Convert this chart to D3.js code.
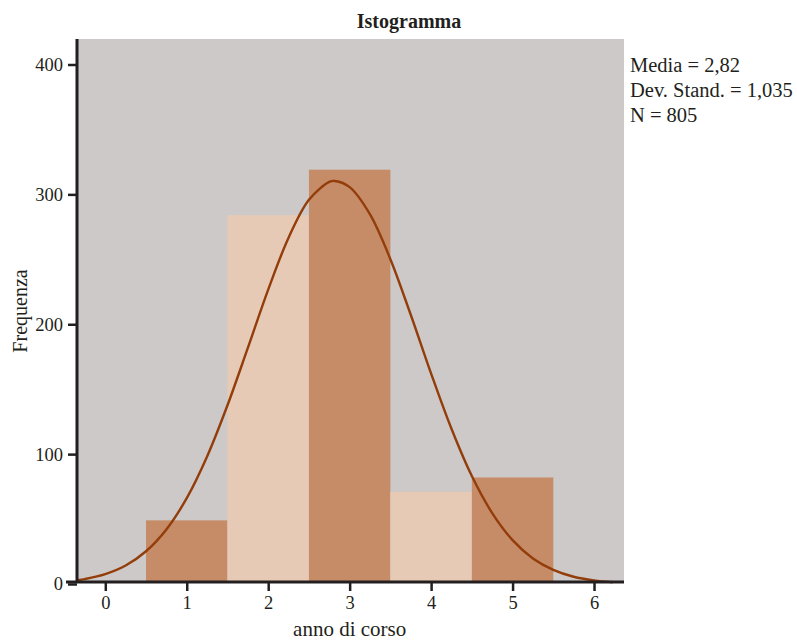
<!DOCTYPE html>
<html>
<head>
<meta charset="utf-8">
<script src="https://cdn.jsdelivr.net/npm/d3@7"></script>
<style>
  body { margin: 0; background: #fff; }
  text { font-family: "Liberation Serif", "DejaVu Serif", serif; fill: #231f20; }
</style>
</head>
<body>
<svg id="chart" width="797" height="641"></svg>
<script>
// histogram bins (anno di corso) and counts
const years = [1, 2, 3, 4, 5];
const counts = [49, 284, 319, 71, 82];
const barColors = ['#c68b67', '#e6cab5', '#c68b67', '#e6cab5', '#c68b67'];

// normal curve
const curveX = [-0.34, -0.25, 0, 0.25, 0.5, 0.75, 1, 1.25, 1.5, 1.75, 2, 2.25, 2.5, 2.75, 2.82,
  3, 3.25, 3.5, 3.75, 4, 4.25, 4.5, 4.75, 5, 5.25, 5.5, 5.75, 6, 6.23];
const curveY = [2.9, 3.8, 7.6, 14.2, 25.2, 42.0, 66.1, 98.2, 137.6, 181.8, 226.7, 266.6, 295.8, 309.6, 310.3,
  305.6, 284.6, 250.1, 207.3, 162.0, 119.5, 83.1, 54.6, 33.8, 19.7, 10.9, 5.6, 2.8, 1.4];

const xTicks = [0, 1, 2, 3, 4, 5, 6];
const yTicks = [0, 100, 200, 300, 400];
const statsLines = ['Media = 2,82', 'Dev. Stand. = 1,035', 'N = 805'];

const svg = d3.select('#chart');

const plot = { left: 78, right: 624, top: 39, bottom: 582 };

const x = d3.scaleLinear().domain([-0.335, 6.368]).range([plot.left, plot.right]);
const y = d3.scaleLinear().domain([0, 400]).range([584, 64.5]);

// plot background
svg.append('rect')
  .attr('x', plot.left)
  .attr('y', plot.top)
  .attr('width', plot.right - plot.left)
  .attr('height', plot.bottom - plot.top)
  .style('fill', '#cdc9c8');

// bars
svg.append('g')
  .selectAll('rect')
  .data(years)
  .join('rect')
    .attr('x', d => x(d - 0.5))
    .attr('y', (d, i) => y(counts[i]))
    .attr('width', d => x(d + 0.5) - x(d - 0.5))
    .attr('height', (d, i) => plot.bottom - y(counts[i]))
    .style('fill', (d, i) => barColors[i]);

// normal curve
const line = d3.line()
  .x(d => x(d[0]))
  .y(d => y(d[1]))
  .curve(d3.curveCatmullRom);

svg.append('path')
  .datum(d3.zip(curveX, curveY))
  .attr('d', line)
  .style('fill', 'none')
  .style('stroke', '#933d0a')
  .style('stroke-width', 2.4);

// axes
const xAxis = d3.axisBottom(x)
  .tickValues(xTicks)
  .tickSize(9)
  .tickPadding(4.5)
  .tickFormat(d3.format('d'));

const yAxis = d3.axisLeft(y)
  .tickValues(yTicks)
  .tickSize(9)
  .tickPadding(5)
  .tickFormat(d3.format('d'));

const gx = svg.append('g')
  .attr('transform', `translate(0, ${plot.bottom})`)
  .call(xAxis);

const gy = svg.append('g')
  .attr('transform', `translate(${plot.left - 1}, 0)`)
  .call(yAxis);

[gx, gy].forEach(g => {
  g.attr('font-size', 18.5).attr('font-family', '"Liberation Serif", serif');
  g.select('.domain').remove();
  g.selectAll('.tick line').style('stroke', '#231f20').style('stroke-width', 2.5);
  g.selectAll('.tick text')
    .style('font-size', '18.5px')
    .style('fill', '#231f20');
});

// axis lines
svg.append('line')
  .attr('x1', plot.left - 1).attr('x2', plot.left - 1)
  .attr('y1', plot.top).attr('y2', plot.bottom)
  .style('stroke', '#231f20').style('stroke-width', 3);

svg.append('line')
  .attr('x1', 66).attr('x2', plot.right)
  .attr('y1', plot.bottom).attr('y2', plot.bottom)
  .style('stroke', '#231f20').style('stroke-width', 3);

// title & labels
svg.append('text')
  .attr('x', 409)
  .attr('y', 27.5)
  .attr('text-anchor', 'middle')
  .style('font-size', '20px')
  .style('font-weight', 'bold')
  .text('Istogramma');

svg.append('text')
  .attr('x', x(3))
  .attr('y', 636)
  .attr('text-anchor', 'middle')
  .style('font-size', '21px')
  .text('anno di corso');

svg.append('text')
  .attr('transform', 'translate(27, 311) rotate(-90)')
  .attr('text-anchor', 'middle')
  .style('font-size', '20px')
  .text('Frequenza');

svg.append('g')
  .selectAll('text')
  .data(statsLines)
  .join('text')
    .attr('x', 630)
    .attr('y', (d, i) => 72 + i * 25)
    .style('font-size', '20.5px')
    .text(d => d);
</script>
</body>
</html>
